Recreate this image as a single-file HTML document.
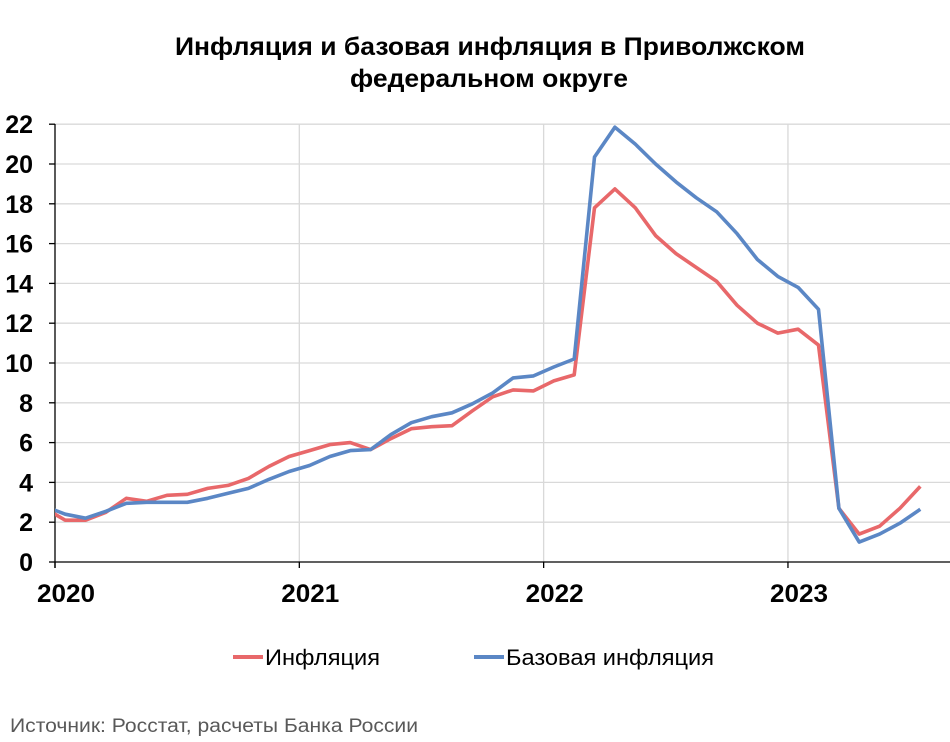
<!DOCTYPE html>
<html><head><meta charset="utf-8"><style>
body{margin:0;background:#fff;}
svg{display:block;font-family:"Liberation Sans",sans-serif;}
</style></head><body>
<svg id="chart" width="950" height="742" viewBox="0 0 950 742">
<text x="490" y="55" text-anchor="middle" font-size="25" font-weight="bold" textLength="630" lengthAdjust="spacingAndGlyphs">Инфляция и базовая инфляция в Приволжском</text>
<text x="489" y="87" text-anchor="middle" font-size="25" font-weight="bold" textLength="278" lengthAdjust="spacingAndGlyphs">федеральном округе</text>
<defs><clipPath id="plotclip"><rect x="55" y="100" width="900" height="470"/></clipPath></defs>
<g id="grid"></g>
<g id="axes"></g>
<g id="series" clip-path="url(#plotclip)"></g>
<g>
<line x1="233" y1="657" x2="263" y2="657" stroke="#E8686A" stroke-width="4"/>
<text x="265" y="665" font-size="22" textLength="115" lengthAdjust="spacingAndGlyphs">Инфляция</text>
<line x1="474" y1="657" x2="504" y2="657" stroke="#5B87C5" stroke-width="4"/>
<text x="506" y="665" font-size="22" textLength="208" lengthAdjust="spacingAndGlyphs">Базовая инфляция</text>
</g>
<text x="10" y="732" font-size="19" fill="#595959" textLength="408" lengthAdjust="spacingAndGlyphs">Источник: Росстат, расчеты Банка России</text>
</svg>
<script>
const yTicks = [0,2,4,6,8,10,12,14,16,18,20,22];
const yearLabels = ['2020','2021','2022','2023'];
// month index: -0.5 = Dec 2019 ... 42.5 = Jul 2023
const inflation = [2.7,2.1,2.1,2.5,3.2,3.05,3.35,3.4,3.7,3.85,4.2,4.8,5.3,5.6,5.9,6.0,5.65,6.2,6.7,6.8,6.85,7.6,8.3,8.65,8.6,9.1,9.4,17.8,18.75,17.8,16.4,15.5,14.8,14.1,12.9,12.0,11.5,11.7,10.9,2.7,1.4,1.8,2.7,3.8];
const coreInflation = [2.8,2.4,2.2,2.55,2.95,3.0,3.0,3.0,3.2,3.45,3.7,4.15,4.55,4.85,5.3,5.6,5.65,6.4,7.0,7.3,7.5,7.95,8.5,9.25,9.35,9.8,10.2,20.35,21.85,21.0,20.0,19.1,18.3,17.6,16.5,15.2,14.35,13.8,12.7,2.7,1.0,1.4,1.95,2.65];
const NS='http://www.w3.org/2000/svg';
const x0=55, monthW=20.36, y0=562, unit=19.9;
function xScale(m){return x0+monthW*m;}
function yScale(v){return y0-unit*v;}
function mk(tag,attrs,parent){const e=document.createElementNS(NS,tag);for(const k in attrs)e.setAttribute(k,attrs[k]);parent.appendChild(e);return e;}
const grid=document.getElementById('grid'), axes=document.getElementById('axes'), series=document.getElementById('series');
yTicks.forEach(v=>{
  if(v>0){const g=mk('line',{x1:55,x2:950,y1:yScale(v),y2:yScale(v),stroke:'#D9D9D9','stroke-width':1.3},grid);
  
  }
  const t=mk('line',{x1:49,x2:55,y1:yScale(v),y2:yScale(v),stroke:'#000','stroke-width':1.3},axes);
  
  
  const l=mk('text',{x:33,y:yScale(v)+9,'text-anchor':'end','font-size':25,'font-weight':'bold'},axes);
  l.textContent=v;
  
  
});
yearLabels.forEach((y,i)=>{
  const x=xScale(12*i);
  if(i>0){const g=mk('line',{x1:x,x2:x,y1:124,y2:562,stroke:'#D9D9D9','stroke-width':1.3},grid);
  
  }
  const t=mk('line',{x1:x,x2:x,y1:562,y2:568,stroke:'#000','stroke-width':1.3},axes);
  
  
  const l=mk('text',{x:x+11,y:602,'text-anchor':'middle','font-size':25,'font-weight':'bold','textLength':58,'lengthAdjust':'spacingAndGlyphs'},axes);
  l.textContent=y;
  
  
});
const ya=mk('line',{x1:55,x2:55,y1:124,y2:568,stroke:'#000','stroke-width':1.3},axes);


const xa=mk('line',{x1:55,x2:950,y1:562,y2:562,stroke:'#000','stroke-width':1.3},axes);


function pts(arr){return arr.map((v,i)=>xScale(i-0.5).toFixed(1)+','+yScale(v).toFixed(1)).join(' ');}
const p1=mk('polyline',{points:pts(inflation),fill:'none',stroke:'#E8686A','stroke-width':3.6,'stroke-linejoin':'round'},series);


const p2=mk('polyline',{points:pts(coreInflation),fill:'none',stroke:'#5B87C5','stroke-width':3.6,'stroke-linejoin':'round'},series);


</script>
</body></html>
